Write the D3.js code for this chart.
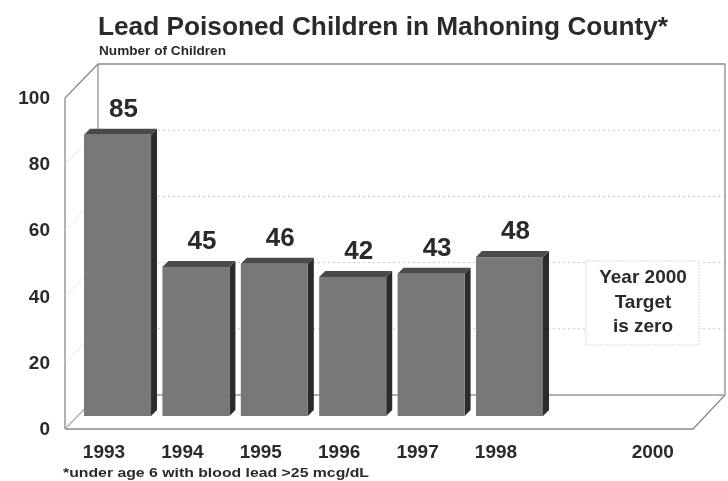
<!DOCTYPE html>
<html><head><meta charset="utf-8">
<script src="https://cdn.jsdelivr.net/npm/d3@7/dist/d3.min.js"></script>
<style>
html,body{margin:0;padding:0;background:#fff;overflow:hidden}
svg{display:block;filter:blur(.55px)}
text{font-family:"Liberation Sans",Arial,sans-serif;font-weight:bold;fill:#2a2a2a}
</style></head><body><svg id="c" width="728" height="481"></svg>
<script>
const categories=["1993","1994","1995","1996","1997","1998","1999","2000"];
const tickLabels=["1993","1994","1995","1996","1997","1998","2000"];
const values=[85,45,46,42,43,48];
const yTicks=[0,20,40,60,80,100];
const gridTicks=[20,40,60,80];
const noteLines=["Year 2000","Target","is zero"];

const svg=d3.select("#c");
const floorFront=429,floorBack=395,barBase=416;
const frontL=65,frontR=693,backL=98,backR=725;
const y=d3.scaleLinear().domain([0,100]).range([0,331]);
const x=d3.scaleBand().domain(categories).range([84,699.8]).paddingInner(.145).paddingOuter(0);
const line="#8a8a8a";

const g=svg.append("g");
g.append("path").attr("fill","none").attr("stroke",line).attr("stroke-width",1.3)
 .attr("d",`M${frontL},${floorFront}V${floorFront-y(100)}L${backL},${floorBack-y(100)}H${backR}V${floorBack}L${frontR},${floorFront}H${frontL}`);
g.append("line").attr("x1",backL).attr("x2",backL).attr("y1",floorBack-y(100)).attr("y2",floorBack).attr("stroke",line).attr("stroke-width",1.2);
g.append("line").attr("x1",frontL).attr("y1",floorFront).attr("x2",backL).attr("y2",floorBack).attr("stroke","#aaa").attr("stroke-width",1.2);
g.append("line").attr("x1",backL).attr("x2",backR).attr("y1",floorBack).attr("y2",floorBack).attr("stroke","#999").attr("stroke-width",1.3);

gridTicks.forEach(t=>{
  g.append("line").attr("x1",backL).attr("x2",backR).attr("y1",floorBack-y(t)).attr("y2",floorBack-y(t))
   .attr("stroke","#c8c8c8").attr("stroke-width",1).attr("stroke-dasharray","2 3");
  g.append("line").attr("x1",frontL).attr("x2",backL).attr("y1",floorFront-y(t)).attr("y2",floorBack-y(t))
   .attr("stroke","#e6e6e6").attr("stroke-width",1);
});

const depth=6;
const bw=x.bandwidth();
const bars=svg.append("g").selectAll("g").data(values).join("g");
const px=(d,i)=>x(categories[i]);
bars.append("path").attr("fill","#2b2b2b")
 .attr("d",(d,i)=>{const l=px(d,i)+bw,t=barBase-y(d);return `M${l},${t}l${depth},-${depth}V${barBase-depth}l-${depth},${depth}Z`;});
bars.append("path").attr("fill","#4a4a4a")
 .attr("d",(d,i)=>{const l=px(d,i),t=barBase-y(d);return `M${l},${t}l${depth},-${depth}h${bw}l-${depth},${depth}Z`;});
bars.append("rect").attr("x",px).attr("y",d=>barBase-y(d)).attr("width",bw).attr("height",d=>y(d)).attr("fill","#787878");
bars.append("text").attr("x",(d,i)=>px(d,i)+bw/2+6).attr("y",d=>barBase-y(d)-18)
 .attr("text-anchor","middle").attr("font-size",26).text(d=>d);

svg.append("g").selectAll("text").data(yTicks).join("text")
 .attr("x",50).attr("y",d=>floorFront-y(d)+6).attr("text-anchor","end").attr("font-size",19).text(d=>d);
svg.append("g").selectAll("text").data(tickLabels).join("text")
 .attr("x",d=>x(d)+bw/2-13.5).attr("y",458).attr("text-anchor","middle").attr("font-size",19).text(d=>d);

svg.append("rect").attr("x",586).attr("y",261).attr("width",113).attr("height",84).attr("fill","#fff").attr("stroke","#d8d8d8").attr("stroke-dasharray","2 1");
svg.append("g").selectAll("text").data(noteLines).join("text")
 .attr("x",643).attr("y",(d,i)=>283+i*24.5).attr("text-anchor","middle").attr("font-size",19).text(d=>d);

svg.append("text").attr("x",98).attr("y",35).attr("font-size",25).attr("textLength",570).attr("lengthAdjust","spacingAndGlyphs").text("Lead Poisoned Children in Mahoning County*");
svg.append("text").attr("x",99).attr("y",55).attr("font-size",12).attr("textLength",127).attr("lengthAdjust","spacingAndGlyphs").text("Number of Children");
svg.append("text").attr("x",63).attr("y",477).attr("font-size",12.5).attr("textLength",306).attr("lengthAdjust","spacingAndGlyphs").text("*under age 6 with blood lead >25 mcg/dL");
</script></body></html>
